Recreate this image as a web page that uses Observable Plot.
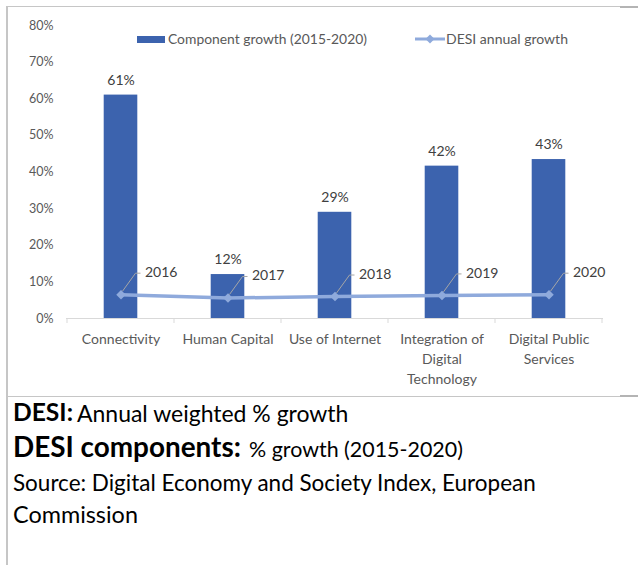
<!DOCTYPE html>
<html>
<head>
<meta charset="utf-8">
<script src="https://cdn.jsdelivr.net/npm/d3@7"></script>
<script src="https://cdn.jsdelivr.net/npm/@observablehq/plot@0.6"></script>
<style>
  body { margin: 0; background: #fff; font-family: Lato, sans-serif; }
  #frame { position: absolute; left: 6px; top: 6px; width: 632px; height: 559px;
           border-left: 2px solid #c6c6c6; border-top: 1px solid #c6c6c6; }
  #chart { position: absolute; left: 0; top: 0; width: 612px; height: 389px;
           border-bottom: 1px solid #c6c6c6; }
  #chart svg { position: absolute; left: 0; top: 0; }
  .seg { position: absolute; background: #b4b4b4; }
  #legend, #caption { position: absolute; left: 0; top: 0; }
</style>
</head>
<body>
<div id="frame">
  <div id="chart"></div>
  <div class="seg" style="left:612px; top:-1px; width:20px; height:2px;"></div>
  <div class="seg" style="left:612px; top:388px; width:20px; height:2px;"></div>
</div>
<div id="caption"></div>
<script>
// ---------- data ----------
const categories = ["Connectivity", "Human Capital", "Use of Internet", "Integration of Digital Technology", "Digital Public Services"];
const categoryLabels = ["Connectivity", "Human Capital", "Use of Internet", "Integration of\nDigital\nTechnology", "Digital Public\nServices"];
const componentGrowth = [0.61, 0.12, 0.29, 0.416, 0.434];
const componentLabels = ["61%", "12%", "29%", "42%", "43%"];
const years = ["2016", "2017", "2018", "2019", "2020"];
const desiGrowth = [0.065, 0.056, 0.060, 0.063, 0.065];
const yTicks = [0, 0.1, 0.2, 0.3, 0.4, 0.5, 0.6, 0.7, 0.8];
const seriesNames = ["Component growth (2015-2020)", "DESI annual growth"];

const bars = categories.map((c, i) => ({cat: c, v: componentGrowth[i], label: componentLabels[i]}));
const desi = categories.map((c, i) => ({cat: c, v: desiGrowth[i], year: years[i]}));
const labelOf = new Map(categories.map((c, i) => [c, categoryLabels[i]]));

const barColor = "#3c63ae";
const lineColor = "#8faadc";

// leader lines from each DESI point to its year label
function leaders(index, scales) {
  const g = d3.create("svg:g").attr("fill", "none").attr("stroke", "#a6a6a6").attr("stroke-width", 1);
  const bw = scales.x.bandwidth ? scales.x.bandwidth() : 0;
  for (const d of desi) {
    const px = scales.x(d.cat) + bw / 2, py = scales.y(d.v);
    g.append("path").attr("d", `M${px + 2},${py - 3}L${px + 15},${py - 21}H${px + 20}`);
  }
  return g.node();
}
// category boundary tick marks below the baseline
function boundaryTicks(index, scales) {
  const g = d3.create("svg:g").attr("stroke", "#d9d9d9").attr("stroke-width", 1);
  const bw = scales.x.bandwidth ? scales.x.bandwidth() : 0;
  const y0 = scales.y(0);
  const xs = categories.map(c => scales.x(c)).concat([scales.x(categories[categories.length - 1]) + bw]);
  for (const x of xs) g.append("line").attr("x1", x).attr("x2", x).attr("y1", y0).attr("y2", y0 + 5);
  return g.node();
}

const chart = Plot.plot({
  width: 612,
  height: 389,
  marginLeft: 58,
  marginRight: 17,
  marginTop: 18,
  marginBottom: 78,
  style: {fontFamily: "Lato, sans-serif", background: "transparent", overflow: "visible"},
  x: {type: "band", domain: categories, padding: 0},
  y: {domain: [0, 0.8]},
  marks: [
    Plot.axisY({ticks: yTicks, tickFormat: d3.format(".0%"), tickSize: 0, tickPadding: 13,
                fontSize: 12.5, fill: "#595959", label: null}),
    Plot.axisX({tickSize: 0, tickPadding: 11, tickFormat: d => labelOf.get(d), fontSize: 14,
                lineHeight: 1.43, fill: "#595959", label: null}),
    Plot.ruleY([0], {stroke: "#d9d9d9"}),
    boundaryTicks,
    Plot.barY(bars, {x: "cat", y: "v", fill: barColor, insetLeft: 36.7, insetRight: 36.7}),
    Plot.text(bars, {x: "cat", y: "v", text: "label", dy: -15, fontSize: 14, fill: "#404040"}),
    Plot.line(desi, {x: "cat", y: "v", stroke: lineColor, strokeWidth: 3.5}),
    Plot.dot(desi, {x: "cat", y: "v", symbol: "diamond2", r: 4.3, fill: lineColor, stroke: null}),
    leaders,
    Plot.text(desi, {x: "cat", y: "v", text: "year", dx: 24, dy: -22, textAnchor: "start", fontSize: 14, fill: "#404040"})
  ]
});
const chartBox = document.getElementById("chart");
chartBox.appendChild(chart);

// ---------- text helpers ----------
const ctx = document.createElement("canvas").getContext("2d");
function place(parent, {text, bold, x, base, w, color}) {
  ctx.font = `${bold ? 700 : 400} 100px Lato`;
  const m = ctx.measureText(text);
  const s = 100 * w / m.width;
  const A = (m.fontBoundingBoxAscent || 98.7) / 100 * s;
  const D = (m.fontBoundingBoxDescent || 21.3) / 100 * s;
  const top = base - ((s - (A + D)) / 2 + A);
  const span = document.createElement("span");
  span.textContent = text;
  Object.assign(span.style, {position: "absolute", left: x + "px", top: top + "px", fontSize: s + "px",
    lineHeight: s + "px", fontWeight: bold ? 700 : 400, whiteSpace: "nowrap", color: color || "#000",
    fontFamily: "Lato, sans-serif"});
  parent.appendChild(span);
}

// ---------- legend (inside chart box) ----------
const legend = document.createElement("div");
legend.id = "legend";
chartBox.appendChild(legend);
const key1 = document.createElement("div");
Object.assign(key1.style, {position: "absolute", left: "129px", top: "29px", width: "28px", height: "7px", background: barColor});
legend.appendChild(key1);
place(legend, {text: seriesNames[0], bold: false, x: 160, base: 37, w: 199, color: "#595959"});
const key2 = document.createElementNS("http://www.w3.org/2000/svg", "svg");
key2.setAttribute("width", 32); key2.setAttribute("height", 12);
Object.assign(key2.style, {position: "absolute", left: "406px", top: "26px"});
key2.innerHTML = `<line x1="1" x2="31" y1="6" y2="6" stroke="${lineColor}" stroke-width="3"/>` +
  `<path d="M16,1.5L20.5,6L16,10.5L11.5,6Z" fill="${lineColor}"/>`;
legend.appendChild(key2);
place(legend, {text: seriesNames[1], bold: false, x: 438, base: 37, w: 122, color: "#595959"});

// ---------- caption below ----------
const cap = document.getElementById("caption");
[
  {text: "DESI:", bold: true, x: 13, base: 422, w: 60},
  {text: "Annual weighted % growth", bold: false, x: 77, base: 422, w: 272},
  {text: "DESI components:", bold: true, x: 13, base: 458, w: 228},
  {text: "% growth (2015-2020)", bold: false, x: 249, base: 458, w: 214},
  {text: "Source: Digital Economy and Society Index, European", bold: false, x: 13, base: 492, w: 524},
  {text: "Commission", bold: false, x: 13, base: 524, w: 125}
].forEach(d => place(cap, d));
</script>
</body>
</html>
